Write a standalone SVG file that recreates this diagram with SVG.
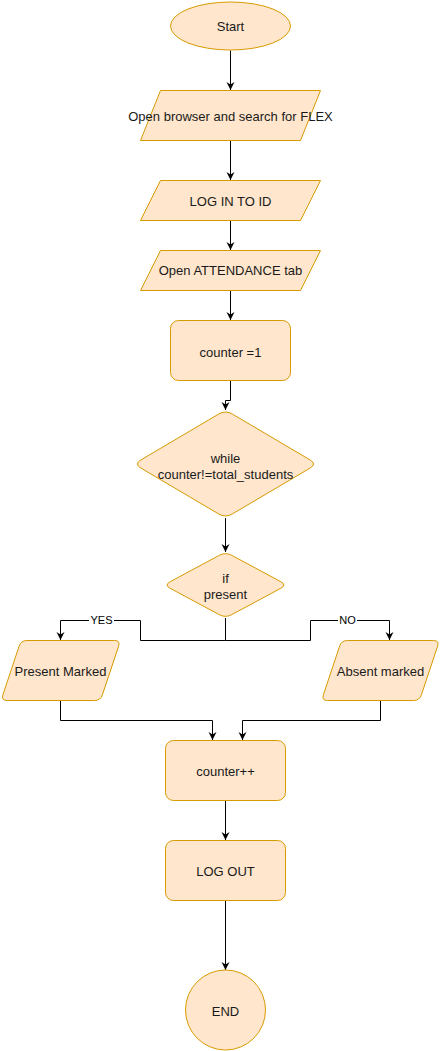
<svg xmlns="http://www.w3.org/2000/svg" width="441" height="1051" viewBox="0 0 441 1051">
<style>
.n{fill:#ffe6cc;stroke:#d79b00;stroke-width:1}
.t{font-family:"Liberation Sans",Arial,Helvetica,sans-serif;font-size:13px;fill:#1a1a1a;text-anchor:middle}
.e{fill:none;stroke:#000;stroke-width:1}
.lb{font-family:"Liberation Sans",Arial,Helvetica,sans-serif;font-size:11px;fill:#000;text-anchor:middle}
</style>
<defs>
<marker id="a" markerUnits="userSpaceOnUse" markerWidth="10" markerHeight="10" refX="8" refY="4" orient="auto">
<path d="M0,0 L8,4 L0,8 L2.5,4 Z" fill="#000"/>
</marker>
</defs>
<rect width="441" height="1051" fill="#fff"/>
<g id="connectors">
<path class="e" d="M230.5 50.5 V90" marker-end="url(#a)"/>
<path class="e" d="M230.5 140.5 V180" marker-end="url(#a)"/>
<path class="e" d="M230.5 220.5 V250" marker-end="url(#a)"/>
<path class="e" d="M230.5 290.5 V320" marker-end="url(#a)"/>
<path class="e" d="M230.5 380.5 V400.5 H225.5 V410" marker-end="url(#a)"/>
<path class="e" d="M225.5 518 V552" marker-end="url(#a)"/>
<path class="e" d="M225.5 618 V640.5 H140.5 V620.5 H60.5 V640" marker-end="url(#a)"/>
<path class="e" d="M225.5 640.5 H310.5 V620.5 H389.5 V640" marker-end="url(#a)"/>
<path class="e" d="M60.5 700.5 V720.5 H212.5 V740" marker-end="url(#a)"/>
<path class="e" d="M380.5 700.5 V720.5 H242.5 V740" marker-end="url(#a)"/>
<path class="e" d="M225.5 800.5 V840" marker-end="url(#a)"/>
<path class="e" d="M225.5 900.5 V970" marker-end="url(#a)"/>
<rect x="89" y="614" width="25" height="12" fill="#fff"/>
<text class="lb" x="101.5" y="624">YES</text>
<rect x="338" y="614" width="19" height="12" fill="#fff"/>
<text class="lb" x="347.5" y="624">NO</text>
</g>
<g id="start">
<ellipse class="n" cx="230.5" cy="26" rx="60" ry="24"/>
<text class="t" x="230.5" y="30.5">Start</text>
</g>
<g id="open-browser">
<polygon class="n" points="160.5,90.5 320.5,90.5 300.5,140.5 140.5,140.5"/>
<text class="t" x="230.5" y="121">Open browser and search for FLEX</text>
</g>
<g id="login">
<polygon class="n" points="160.5,180.5 320.5,180.5 300.5,220.5 140.5,220.5"/>
<text class="t" x="230.5" y="205.5">LOG IN TO ID</text>
</g>
<g id="attendance">
<polygon class="n" points="160.5,250.5 320.5,250.5 300.5,290.5 140.5,290.5"/>
<text class="t" x="230.5" y="275">Open ATTENDANCE tab</text>
</g>
<g id="counter-init">
<rect class="n" x="170.5" y="320.5" width="120" height="60" rx="8"/>
<text class="t" x="230.5" y="356.5">counter =1</text>
</g>
<g id="while">
<path class="n" d="M218.6 414.07 Q225.5 410 232.4 414.07 L310.1 459.93 Q317 464 310.1 468.07 L232.4 513.93 Q225.5 518 218.6 513.93 L140.9 468.07 Q134 464 140.9 459.93 Z"/>
<text class="t" x="225.5" y="463">while</text>
<text class="t" x="225.5" y="479">counter!=total_students</text>
</g>
<g id="if-present">
<path class="n" d="M219.33 555.31 Q225.5 552 231.67 555.31 L280.83 581.69 Q287 585 280.83 588.31 L231.67 614.69 Q225.5 618 219.33 614.69 L170.17 588.31 Q164 585 170.17 581.69 Z"/>
<text class="t" x="225.5" y="582.5">if</text>
<text class="t" x="225.5" y="598.5">present</text>
</g>
<g id="present-marked">
<path class="n" d="M27 640.5 L114.5 640.5 Q120.5 640.5 118.6 646.2 L102.4 694.8 Q100.5 700.5 94.5 700.5 L7 700.5 Q1 700.5 2.9 694.8 L19.1 646.2 Q21 640.5 27 640.5 Z"/>
<text class="t" x="60.5" y="675.5">Present Marked</text>
</g>
<g id="absent-marked">
<path class="n" d="M347.5 640.5 L433.5 640.5 Q439.5 640.5 437.6 646.2 L421.4 694.8 Q419.5 700.5 413.5 700.5 L327.5 700.5 Q321.5 700.5 323.4 694.8 L339.6 646.2 Q341.5 640.5 347.5 640.5 Z"/>
<text class="t" x="380.5" y="675.5">Absent marked</text>
</g>
<g id="counter-inc">
<rect class="n" x="165.5" y="740.5" width="120" height="60" rx="8"/>
<text class="t" x="225.5" y="776">counter++</text>
</g>
<g id="logout">
<rect class="n" x="165.5" y="840.5" width="120" height="60" rx="8"/>
<text class="t" x="225.5" y="875.5">LOG OUT</text>
</g>
<g id="end">
<circle class="n" cx="225.5" cy="1010" r="40"/>
<text class="t" x="225.5" y="1015.5">END</text>
</g>
</svg>
